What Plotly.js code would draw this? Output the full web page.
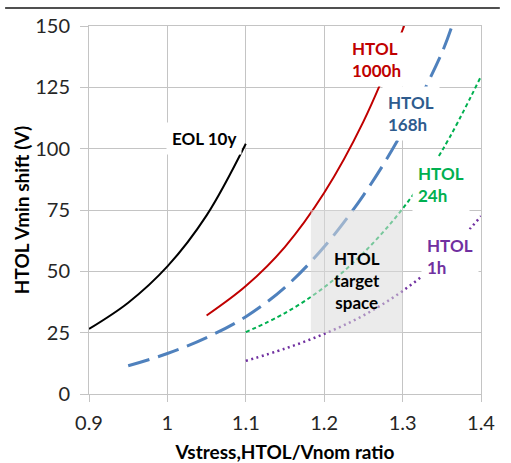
<!DOCTYPE html>
<html>
<head>
<meta charset="utf-8">
<script src="https://cdn.plot.ly/plotly-3.0.1.min.js"></script>
<style>html,body{margin:0;padding:0;background:#fff;}#chart{width:511px;height:463px;}</style>
</head>
<body>
<div id="chart"></div>
<script>
// Data
const eolX = [0.9, 0.95, 1.0, 1.05, 1.1];
const eolY = [26.5, 37.2, 52, 72.8, 102];

const h1000X = [1.05, 1.1, 1.15, 1.2, 1.25, 1.302];
const h1000Y = [32, 44, 60, 82, 111, 150];

const h168X = [0.95, 1.0, 1.05, 1.1, 1.15, 1.2, 1.25, 1.3, 1.35, 1.363];
const h168Y = [11.5, 16.5, 23, 31.5, 43.5, 60, 81, 107, 139, 150];

const h24X = [1.1, 1.15, 1.2, 1.25, 1.3, 1.35, 1.4];
const h24Y = [25.2, 33, 43.5, 57.5, 75.5, 99, 129.5];

const h1X = [1.1, 1.15, 1.2, 1.25, 1.3, 1.35, 1.4];
const h1Y = [13.5, 18.5, 24.5, 32, 42, 55, 72.5];

const targetX = [1.183, 1.3];
const targetY = [25, 75];

const xTicks = [0.9, 1.0, 1.1, 1.2, 1.3, 1.4];
const xTickText = ["0.9", "1", "1.1", "1.2", "1.3", "1.4"];
const yTicks = [0, 25, 50, 75, 100, 125, 150];

const FONT = "Lato, 'Open Sans', sans-serif";

function line(x, y, color, width, dash) {
  return {x: x, y: y, type: 'scatter', mode: 'lines', hoverinfo: 'skip',
          line: {color: color, width: width, dash: dash, shape: 'spline', smoothing: 1}};
}

const traces = [
  line(eolX, eolY, '#000000', 2, 'solid'),
  line(h1000X, h1000Y, '#c00000', 2, 'solid'),
  line(h168X, h168Y, '#4f81bd', 3, '22px,9px'),
  line(h24X, h24Y, '#00b050', 2, '4px,3px'),
  line(h1X, h1Y, '#7030a0', 2.5, '2px,3.5px')
];

function lab(text, x, y, color, bg) {
  return {text: text, x: x, y: y, xref: 'x', yref: 'y', showarrow: false,
          xanchor: 'center', yanchor: 'middle', align: 'left',
          font: {family: FONT, size: 17, color: color},
          bgcolor: bg, borderpad: 5};
}

const annotations = [
  lab('<b>EOL 10y</b>', 1.0467, 104, '#000000', '#ffffff'),
  lab('<b>HTOL<br>1000h</b>', 1.2663, 136.4, '#c00000', '#ffffff'),
  lab('<b>HTOL<br>168h</b>', 1.3107, 114.4, '#2e5c8e', '#ffffff'),
  lab('<b>HTOL<br>24h</b>', 1.349, 85.5, '#00b050', '#ffffff'),
  lab('<b>HTOL<br>1h</b>', 1.3604, 56, '#7030a0', '#ffffff'),
  Object.assign(lab('<b>HTOL<br>target<br>space</b>', 1.2418, 46.3, '#000000', 'rgba(0,0,0,0)'), {align: 'center', borderpad: 0})
];

const layout = {
  width: 511, height: 463,
  margin: {l: 89, r: 30, t: 26, b: 69},
  paper_bgcolor: '#ffffff', plot_bgcolor: '#ffffff',
  showlegend: false,
  font: {family: FONT, size: 20, color: '#000000'},
  xaxis: {
    range: [0.9, 1.4], tickvals: xTicks, ticktext: xTickText,
    showgrid: true, gridcolor: '#c4c4c4', gridwidth: 1,
    showline: true, linecolor: '#c4c4c4', linewidth: 1, mirror: true,
    ticks: 'outside', ticklen: 7, tickcolor: '#c4c4c4',
    zeroline: false, tickfont: {family: FONT, size: 20, color: '#262626'},
    ticklabelstandoff: 4,
    title: {text: '<b>Vstress,HTOL/Vnom ratio</b>', font: {family: FONT, size: 19, color: '#000'}, standoff: 12}
  },
  yaxis: {
    range: [0, 150], tickvals: yTicks,
    showgrid: true, gridcolor: '#c4c4c4', gridwidth: 1,
    showline: true, linecolor: '#c4c4c4', linewidth: 1, mirror: true,
    ticks: 'outside', ticklen: 8, tickcolor: '#c4c4c4',
    zeroline: false, tickfont: {family: FONT, size: 20, color: '#262626'},
    ticklabelstandoff: 6,
    title: {text: '<b>HTOL Vmin shift (V)</b>', font: {family: FONT, size: 19, color: '#000'}, standoff: 0}
  },
  shapes: [
    {type: 'rect', xref: 'x', yref: 'y', x0: targetX[0], x1: targetX[1], y0: targetY[0], y1: targetY[1],
     fillcolor: 'rgba(218,218,218,0.55)', line: {width: 0}, layer: 'above'},
    {type: 'line', xref: 'paper', yref: 'paper', x0: -0.214, x1: 1.048, y0: 1.049, y1: 1.049,
     line: {color: '#505050', width: 2}}
  ],
  annotations: annotations
};

Plotly.newPlot('chart', traces, layout, {displayModeBar: false, staticPlot: true});
</script>
</body>
</html>
